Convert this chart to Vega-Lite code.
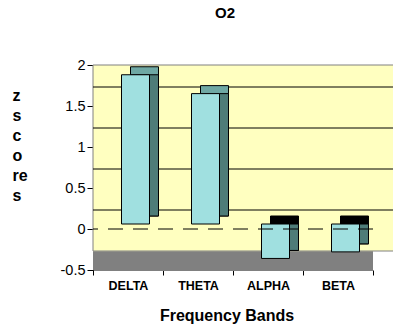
{
  "$schema": "https://vega.github.io/schema/vega-lite/v6.json",
  "width": 280,
  "height": 205,
  "autosize": {"type": "none"},
  "padding": {"left": 93, "top": 65, "right": 20, "bottom": 58},
  "background": "white",
  "title": {"text": "O2", "font": "Liberation Sans", "fontSize": 15, "fontWeight": "bold", "anchor": "middle", "dx": -8, "offset": 36, "color": "#000"},
  "config": {"view": {"stroke": null}, "font": "Liberation Sans"},
  "datasets": {
    "bands": [{"band": "DELTA", "z": 1.82}, {"band": "THETA", "z": 1.59}, {"band": "ALPHA", "z": -0.42}, {"band": "BETA", "z": -0.34}]
  },
  "layer": [
    {
      "data": {"values": [{}]},
      "mark": {"type": "rect", "fill": "#FFFFC0"},
      "encoding": {"y": {"datum": -0.5, "type": "quantitative", "scale": {"domain": [-0.5, 2], "nice": false, "zero": false},
        "axis": {"values": [-0.5, 0, 0.5, 1, 1.5, 2], "labelExpr": "toString(datum.value)", "grid": false,
          "labelFont": "Liberation Sans", "labelFontSize": 14.5, "labelColor": "#000", "labelPadding": 2,
          "domainColor": "#000", "tickColor": "#000", "tickSize": 6,
          "title": ["z", "s", "c", "o", "re", "s"], "titleAngle": 0, "titleX": -81, "titleY": 22, "titleBaseline": "top", "titleAlign": "left",
          "titleLineHeight": 20, "titleFont": "Liberation Sans", "titleFontSize": 16, "titleFontWeight": "bold", "titleColor": "#000"}},
        "y2": {"datum": 2}}
    },
    {
      "data": {"values": [{}]},
      "mark": {"type": "rect", "fill": "#FFFFC0", "stroke": "#808080", "strokeWidth": 1, "xOffset": 24, "yOffset": -19},
      "encoding": {"y": {"datum": -0.5, "type": "quantitative"}, "y2": {"datum": 2}}
    },
    {
      "data": {"values": [{}]},
      "mark": {"type": "rect", "fill": "#808080"},
      "encoding": {"y": {"datum": -0.5, "type": "quantitative"}, "y2": {"datum": -0.27}}
    },
    {
      "data": {"values": [{"g": 0}, {"g": 0.5}, {"g": 1}, {"g": 1.5}]},
      "mark": {"type": "rule", "color": "#000", "strokeWidth": 1, "xOffset": 24, "yOffset": -19},
      "encoding": {"y": {"field": "g", "type": "quantitative"}}
    },
    {
      "data": {"name": "bands"},
      "layer": [
        {
          "transform": [{"filter": "datum.z > 0"}],
          "mark": {"type": "bar", "fill": "#6FA8A4", "stroke": "#000", "strokeWidth": 1, "width": 28, "xOffset": 16.5, "yOffset": -13, "y2Offset": -13},
          "encoding": {
            "x": {"field": "band", "type": "nominal", "sort": null, "scale": {"paddingInner": 0, "paddingOuter": 0},
              "axis": {"title": "Frequency Bands", "titleFont": "Liberation Sans", "titleFontSize": 16, "titleFontWeight": "bold", "titleColor": "#000",
                "titleX": 133.5, "titleY": 50, "titleBaseline": "alphabetic", "titleAlign": "center",
                "labelFont": "Liberation Sans", "labelFontSize": 12.5, "labelFontWeight": "bold", "labelColor": "#000", "labelAngle": 0, "labelPadding": 4,
                "domainColor": "#808080", "tickColor": "#000", "tickSize": 5, "tickBand": "extent", "grid": false}},
            "y": {"field": "z", "type": "quantitative"},
            "y2": {"datum": 0}
          }
        },
        {
          "transform": [{"filter": "datum.z < 0"}],
          "mark": {"type": "bar", "fill": "#000000", "stroke": "#000", "strokeWidth": 1, "width": 28, "xOffset": 16.5, "yOffset": -13, "y2Offset": -13},
          "encoding": {
            "x": {"field": "band", "type": "nominal", "sort": null},
            "y": {"field": "z", "type": "quantitative"},
            "y2": {"datum": 0}
          }
        },
        {
          "transform": [{"filter": "datum.z > 0"}],
          "mark": {"type": "bar", "fill": "#4E7C78", "stroke": "#000", "strokeWidth": 1, "width": 28, "xOffset": 16.5, "yOffset": -5, "y2Offset": -13},
          "encoding": {
            "x": {"field": "band", "type": "nominal", "sort": null},
            "y": {"field": "z", "type": "quantitative"},
            "y2": {"datum": 0}
          }
        },
        {
          "transform": [{"filter": "datum.z < 0"}],
          "mark": {"type": "bar", "fill": "#4E7C78", "stroke": "#000", "strokeWidth": 1, "width": 28, "xOffset": 16.5, "yOffset": -13, "y2Offset": -5},
          "encoding": {
            "x": {"field": "band", "type": "nominal", "sort": null},
            "y": {"field": "z", "type": "quantitative"},
            "y2": {"datum": 0}
          }
        },
        {
          "mark": {"type": "bar", "fill": "#A0E0E0", "stroke": "#000", "strokeWidth": 1, "width": 28, "xOffset": 7.5, "yOffset": -5, "y2Offset": -5},
          "encoding": {
            "x": {"field": "band", "type": "nominal", "sort": null},
            "y": {"field": "z", "type": "quantitative"},
            "y2": {"datum": 0}
          }
        }
      ]
    },
    {
      "data": {"values": [{}]},
      "mark": {"type": "rule", "color": "#000", "strokeWidth": 1, "strokeDash": [15, 10]},
      "encoding": {"y": {"datum": 0, "type": "quantitative"}}
    }
  ]
}
